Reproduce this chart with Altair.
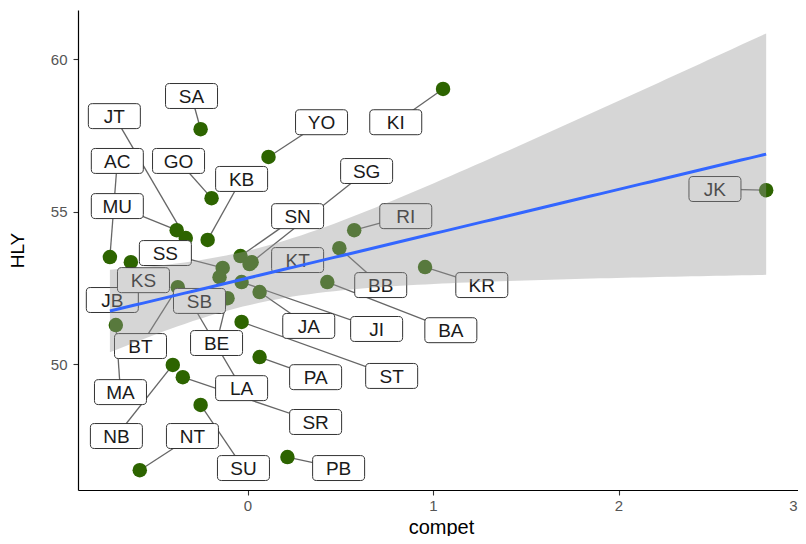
import altair as alt
import pandas as pd
import numpy as np

codes = ["KI", "SA", "YO", "GO", "JK", "KB", "JT", "MU", "AC", "JB", "SN",
         "SG", "KT", "SS", "KS", "JI", "JA", "BE", "BT", "LA", "SB", "RI",
         "BB", "KR", "BA", "ST", "PA", "NB", "SR", "SU", "NT", "PB", "MA"]
compet = [1.054, -0.253, 0.113, -0.194, 2.796, -0.215, -0.333, -0.382, -0.742, -0.700, -0.038,
          0.022, 0.011, -0.134, -0.629, -0.032, 0.065, -0.108, -0.376, -0.312, -0.151, 0.575,
          0.495, 0.957, 0.430, -0.032, 0.065, -0.403, -0.349, -0.253, -0.581, 0.215, -0.710]
hly = [59.02, 57.70, 56.79, 55.44, 55.70, 54.07, 54.13, 54.39, 53.51, 52.10, 53.54,
       53.34, 53.28, 53.15, 53.34, 52.69, 52.36, 52.16, 52.52, 52.10, 52.85, 54.39,
       53.80, 53.18, 52.69, 51.38, 50.23, 49.97, 49.57, 48.66, 46.52, 46.95, 51.28]
label_x = [0.799, -0.302, 0.399, -0.372, 2.520, -0.032, -0.718, -0.702, -0.702, -0.729, 0.270,
           0.642, 0.270, -0.443, -0.561, 0.696, 0.330, -0.167, -0.577, -0.032, -0.259, 0.853,
           0.718, 1.263, 1.096, 0.777, 0.367, -0.707, 0.367, -0.022, -0.297, 0.491, -0.685]
label_y = [57.93, 58.79, 57.93, 56.66, 55.74, 56.07, 58.13, 55.18, 56.66, 52.10, 54.85,
           56.33, 53.41, 53.64, 52.75, 51.15, 51.25, 50.69, 50.59, 49.21, 52.07, 54.85,
           52.59, 52.59, 51.11, 49.61, 49.57, 47.64, 48.10, 46.59, 47.64, 46.59, 49.08]
no_segment = ["KT", "KS", "JB", "SB"]

df = pd.DataFrame({"code": codes, "compet": compet, "HLY": hly,
                   "lx": label_x, "ly": label_y})
seg_df = df[~df["code"].isin(no_segment)]

# linear fit with 95% confidence band (as geom_smooth(method="lm"))
xa = np.array(compet)
ya = np.array(hly)
n = len(xa)
b1, b0 = np.polyfit(xa, ya, 1)
resid = ya - (b0 + b1 * xa)
s = np.sqrt(np.sum(resid ** 2) / (n - 2))
xg = np.linspace(xa.min(), xa.max(), 80)
pred = b0 + b1 * xg
se = s * np.sqrt(1.0 / n + (xg - xa.mean()) ** 2 / np.sum((xa - xa.mean()) ** 2))
tq = 2.0395  # t quantile 0.975, df = 31
fit = pd.DataFrame({"compet": xg, "fit": pred, "lo": pred - tq * se, "hi": pred + tq * se})

FONT = "Liberation Sans"
xscale = alt.Scale(domain=[-0.914, 3.0], nice=False, zero=False)
yscale = alt.Scale(domain=[45.87, 61.61], nice=False, zero=False)
xaxis = alt.Axis(values=[0, 1, 2, 3], title="compet", grid=False, domainColor="black",
                 domainWidth=1.2, tickColor="#333333", tickSize=5, tickWidth=1.1,
                 labelColor="#555555", labelFontSize=15, labelFont=FONT, labelPadding=3,
                 labelFlush=True, labelFlushOffset=-7,
                 titleFont=FONT, titleFontSize=20, titleFontWeight="normal",
                 titleColor="black", titlePadding=4)
yaxis = alt.Axis(values=[50, 55, 60], title="HLY", grid=False, domainColor="black",
                 domainWidth=1.2, tickColor="#333333", tickSize=5, tickWidth=1.1,
                 labelColor="#555555", labelFontSize=15, labelFont=FONT, labelPadding=6,
                 titleFont=FONT, titleFontSize=19, titleFontWeight="normal",
                 titleColor="black", titlePadding=23)

X = alt.X("compet:Q", scale=xscale, axis=xaxis)
Y = alt.Y("HLY:Q", scale=yscale, axis=yaxis)

segments = alt.Chart(seg_df).mark_rule(color="#666666", strokeWidth=1.3).encode(
    x=X, y=Y, x2="lx:Q", y2="ly:Q")

points = alt.Chart(df).mark_point(filled=True, color="#2D6400", opacity=1, size=210).encode(
    x=X, y=Y)

box_path = ("M-0.846,-0.48 L0.846,-0.48 Q1,-0.48 1,-0.326 L1,0.326 Q1,0.48 0.846,0.48 "
            "L-0.846,0.48 Q-1,0.48 -1,0.326 L-1,-0.326 Q-1,-0.48 -0.846,-0.48 Z")
boxes = alt.Chart(df).mark_point(shape=box_path, size=2704, filled=True, fill="white",
                                 stroke="#333333", strokeWidth=1, opacity=1).encode(
    x=alt.X("lx:Q", scale=xscale, axis=xaxis), y=alt.Y("ly:Q", scale=yscale, axis=yaxis))

texts = alt.Chart(df).mark_text(font=FONT, fontSize=19, color="#1A1A1A", align="center",
                                baseline="middle", dy=1).encode(
    x=alt.X("lx:Q", scale=xscale, axis=xaxis), y=alt.Y("ly:Q", scale=yscale, axis=yaxis),
    text="code:N")

band = alt.Chart(fit).mark_area(color="#999999", opacity=0.4).encode(
    x=alt.X("compet:Q", scale=xscale, axis=xaxis),
    y=alt.Y("lo:Q", scale=yscale, axis=yaxis), y2="hi:Q")

line = alt.Chart(fit).mark_line(color="#3366FF", strokeWidth=3).encode(
    x=alt.X("compet:Q", scale=xscale, axis=xaxis),
    y=alt.Y("fit:Q", scale=yscale, axis=yaxis))

chart = alt.layer(segments, points, boxes, texts, band, line).properties(
    width=726, height=480,
    padding={"left": 70, "top": 2, "right": -6, "bottom": 46},
    autosize=alt.AutoSizeParams(type="none"),
    background="white",
).configure_view(stroke=None)

chart.save("out.html", embed_options={"renderer": "svg", "actions": False})
